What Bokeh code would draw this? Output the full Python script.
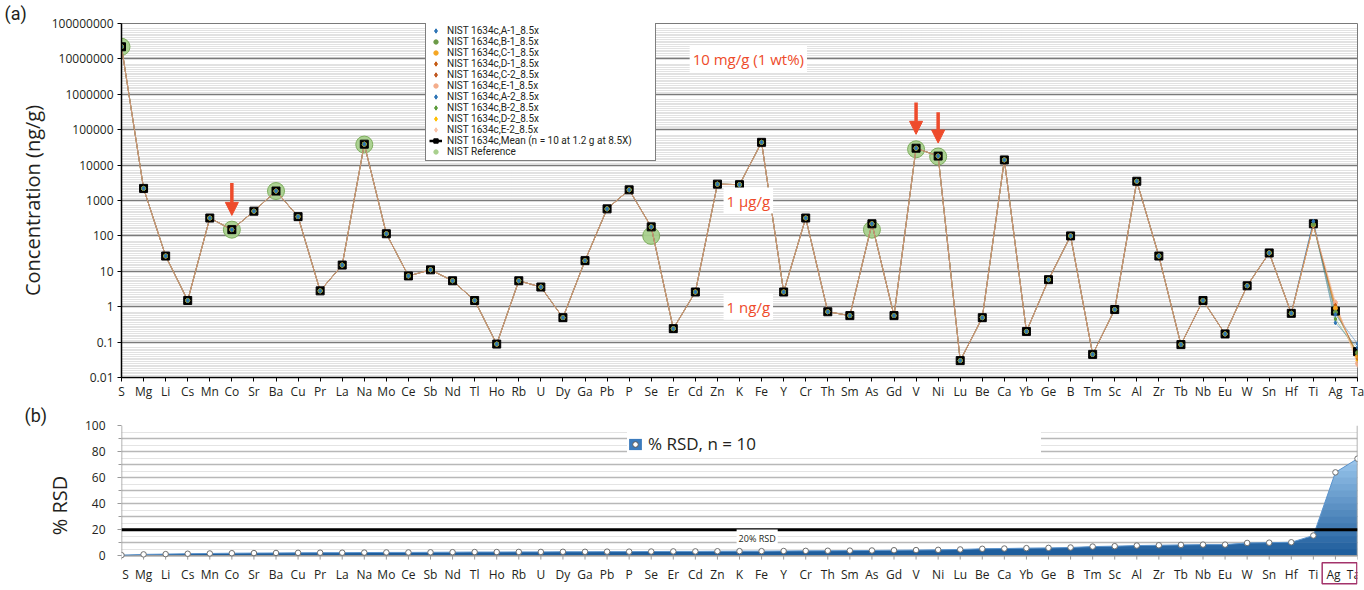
import numpy as np
from bokeh.plotting import figure
from bokeh.models import (Range1d, FixedTicker, Legend, LegendItem, Label, Arrow,
                          NormalHead, Span, Title)
from bokeh.core.properties import value
from bokeh.layouts import column
from bokeh.embed import file_html
from bokeh.resources import INLINE

FONT = "Open Sans"
LFONT = "Roboto"
RED = "#ee4b2b"
INK = "#231f20"
NAN = float("nan")

elements = ["S", "Mg", "Li", "Cs", "Mn", "Co", "Sr", "Ba", "Cu", "Pr", "La", "Na", "Mo",
            "Ce", "Sb", "Nd", "Tl", "Ho", "Rb", "U", "Dy", "Ga", "Pb", "P", "Se", "Er",
            "Cd", "Zn", "K", "Fe", "Y", "Cr", "Th", "Sm", "As", "Gd", "V", "Ni", "Lu",
            "Be", "Ca", "Yb", "Ge", "B", "Tm", "Sc", "Al", "Zr", "Tb", "Nb", "Eu", "W",
            "Sn", "Hf", "Ti", "Ag", "Ta"]

# mean concentration, ng/g (n = 10)
mean_ngg = [2.2e7, 2200, 27, 1.5, 320, 150, 500, 1850, 350, 2.8, 15, 39000, 115,
            7.4, 11, 5.4, 1.5, 0.088, 5.4, 3.6, 0.49, 20, 580, 2000, 180, 0.24,
            2.6, 2900, 2800, 44000, 2.6, 320, 0.72, 0.56, 220, 0.56, 30000, 18000, 0.03,
            0.49, 14000, 0.2, 5.8, 100, 0.045, 0.83, 3500, 27, 0.085, 1.5, 0.17, 3.9,
            33, 0.65, 220, 0.75, 0.054]

# NIST certified / reference values (only where shown)
nist_ref = {"S": 2.2e7, "Co": 150, "Ba": 1850, "Na": 38000, "Se": 100, "As": 150,
            "V": 28000, "Ni": 17500}

# replicate runs: identical to the mean except where they visibly diverge
rep_names = ["NIST 1634c,A-1_8.5x", "NIST 1634c,B-1_8.5x", "NIST 1634c,C-1_8.5x",
             "NIST 1634c,D-1_8.5x", "NIST 1634c,C-2_8.5x", "NIST 1634c,E-1_8.5x",
             "NIST 1634c,A-2_8.5x", "NIST 1634c,B-2_8.5x", "NIST 1634c,D-2_8.5x",
             "NIST 1634c,E-2_8.5x"]
rep_colors = ["#2e75b6", "#6b9a47", "#f5a623", "#c55a11", "#c0561e", "#f4ad8b",
              "#2e75b6", "#5c9b3a", "#ffbf00", "#f9c3a8"]
rep_markers = ["diamond", "circle", "circle", "diamond", "diamond", "circle",
               "diamond", "diamond", "diamond", "diamond"]
rep_ti = [260, 210, 205, 200, 205, 200, 250, 215, 200, 195]
rep_ag = [0.6, 0.7, 0.9, 1.1, 0.8, 1.3, 0.35, 0.45, 1.0, 1.4]
rep_ta = [0.09, 0.05, 0.04, 0.035, 0.045, 0.025, 0.07, 0.05, 0.03, 0.022]

# % RSD, n = 10
rsd = [0.4, 1.0, 1.2, 1.5, 1.7, 1.9, 2.0, 2.1, 2.2, 2.3, 2.3, 2.4, 2.5, 2.5, 2.6,
       2.7, 2.8, 2.8, 2.9, 2.9, 3.0, 3.0, 3.1, 3.1, 3.2, 3.3, 3.3, 3.4, 3.5, 3.5,
       3.6, 3.7, 3.8, 3.9, 4.0, 4.2, 4.3, 4.5, 4.8, 5.3, 5.5, 5.8, 6.0, 6.3, 7.0,
       7.3, 7.8, 8.0, 8.3, 8.5, 8.5, 9.8, 10.0, 10.3, 15.5, 64.0, 74.5]

y_major = [1e-2, 1e-1, 1, 10, 100, 1e3, 1e4, 1e5, 1e6, 1e7, 1e8]
y_labels = ["0.01", "0.1", "1", "10", "100", "1000", "10000", "100000", "1000000",
            "10000000", "100000000"]
rsd_ticks = [0, 20, 40, 60, 80, 100]

x = list(range(len(elements)))
n = len(elements)
W = 1364

# ---------------- (a) concentrations ----------------
p1 = figure(width=W, height=402, x_range=Range1d(0, n - 1), y_range=Range1d(0.01, 1e8),
            y_axis_type="log", output_backend="svg", toolbar_location=None,
            min_border_left=121, min_border_right=7, min_border_top=23,
            min_border_bottom=23, background_fill_color="white")
p1.outline_line_color = "#7a7a7a"
p1.add_layout(Title(text="(a)", align="left", offset=-117, standoff=0,
                    text_font=LFONT, text_font_size="18px", text_font_style="normal",
                    text_color=INK), "above")

minor = [10 ** (k + j * 0.05) for k in range(-2, 8) for j in range(1, 18)]
yt = FixedTicker(ticks=y_major, minor_ticks=minor)
p1.yaxis.ticker = yt
p1.ygrid.ticker = yt
p1.yaxis.major_label_overrides = {v: s for v, s in zip(y_major, y_labels)}
p1.ygrid.grid_line_color = "#7a7a7a"
p1.ygrid.grid_line_width = 1.5
p1.ygrid.minor_grid_line_color = "#c4c4c4"
p1.ygrid.minor_grid_line_dash = "1 1"
p1.xgrid.visible = False

xt = FixedTicker(ticks=x)
p1.xaxis.ticker = xt
p1.xaxis.major_label_overrides = {i: e for i, e in enumerate(elements)}

for ax in (p1.xaxis[0], p1.yaxis[0]):
    ax.axis_line_color = "black"
    ax.axis_line_width = 1.5
    ax.major_tick_line_color = "black"
    ax.major_tick_out = 4
    ax.major_tick_in = 0
    ax.minor_tick_line_color = None
    ax.major_label_text_font = FONT
    ax.major_label_text_font_size = "12px"
    ax.major_label_text_color = INK
p1.xaxis.major_label_standoff = 1
p1.yaxis.major_label_standoff = 4
p1.yaxis.axis_label = "Concentration (ng/g)"
p1.yaxis.axis_label_text_font = FONT
p1.yaxis.axis_label_text_font_size = "20px"
p1.yaxis.axis_label_text_font_style = "normal"
p1.yaxis.axis_label_text_color = INK
p1.yaxis.axis_label_standoff = 3

# NIST reference circles
ref_y = [nist_ref.get(e, NAN) for e in elements]
r_ref = p1.scatter(x, ref_y, marker="circle", size=17, fill_color="#a8d08d",
                   line_color="#7fae5f", line_width=1, fill_alpha=0.95)

# replicate series
rep_series = []
for k in range(len(rep_names)):
    s = list(mean_ngg)
    s[elements.index("Ti")] = rep_ti[k]
    s[elements.index("Ag")] = rep_ag[k]
    s[elements.index("Ta")] = rep_ta[k]
    rep_series.append(s)

line_order = [8, 2, 1, 7, 0, 3, 6, 5, 4, 9]
for k in line_order:
    p1.line(x, rep_series[k], line_color=rep_colors[k], line_width=1, line_alpha=0.45)

r_mean = p1.scatter(x, mean_ngg, marker="square", size=8, fill_color="black",
                    line_color="black")

for k in reversed(range(len(rep_names))):
    p1.scatter(x, rep_series[k], marker=rep_markers[k], size=4,
               fill_color=rep_colors[k], line_color=rep_colors[k])

# legend swatches (legend-only renderers with off-scale points)
leg_r = [p1.scatter([NAN], [NAN], marker=rep_markers[k], size=7, fill_color=rep_colors[k],
                    line_color=rep_colors[k]) for k in range(len(rep_names))]
leg_mean_l = p1.line([NAN, NAN], [NAN, NAN], line_color="black", line_width=2.5)
leg_mean = p1.scatter([NAN], [NAN], marker="square", size=7, fill_color="black",
                      line_color="black")
leg_ref = p1.scatter([NAN], [NAN], marker="circle", size=7, fill_color="#a8d08d",
                     line_color="#a8d08d")

items = [LegendItem(label=rep_names[k], renderers=[leg_r[k]]) for k in range(len(rep_names))]
items.append(LegendItem(label="NIST 1634c,Mean (n = 10 at 1.2 g at 8.5X)",
                        renderers=[leg_mean_l, leg_mean]))
items.append(LegendItem(label="NIST Reference", renderers=[leg_ref]))
leg1 = Legend(items=items, location=(304, 216), label_text_font=LFONT,
              label_text_font_size="10px", label_text_color=INK,
              glyph_width=13, glyph_height=11, label_height=9, spacing=0,
              padding=3, margin=0, label_standoff=5, border_line_color="black",
              border_line_width=1, background_fill_color="white",
              background_fill_alpha=1, label_width=205)
p1.add_layout(leg1)

# annotation texts
for txt, yv in (("10 mg/g (1 wt%)", 1e7), ("1 µg/g", 1e3), ("1 ng/g", 1)):
    p1.add_layout(Label(x=28.4, y=yv, text=txt, text_color=RED, text_font=FONT,
                        text_font_size="15px", text_align="center",
                        text_baseline="middle", background_fill_color="white",
                        padding=3))

# arrows
for xi, y0, y1 in ((elements.index("Co"), 3100, 380), (elements.index("V"), 5.9e5, 7.4e4),
                   (elements.index("Ni"), 3.1e5, 4.2e4)):
    p1.add_layout(Arrow(end=NormalHead(size=13, fill_color=RED, line_color=RED),
                        x_start=xi, y_start=y0, x_end=xi, y_end=y1,
                        line_color=RED, line_width=3.5))

# ---------------- (b) % RSD ----------------
# frame extends below 0 so that the category labels (and the Ag/Ta box) live inside it
p2 = figure(width=W, height=188, x_range=Range1d(0, n - 1), y_range=Range1d(-22.9, 100),
            output_backend="svg", toolbar_location=None,
            min_border_left=121, min_border_right=7, min_border_top=22,
            min_border_bottom=5)
p2.add_layout(Title(text="(b)", align="left", offset=-97, standoff=0,
                    text_font=LFONT, text_font_size="18px", text_font_style="normal",
                    text_color=INK), "above")
p2.outline_line_color = None
p2.xaxis.visible = False
p2.xgrid.visible = False
p2.ygrid.ticker = FixedTicker(ticks=list(range(0, 101, 10)),
                              minor_ticks=list(range(5, 100, 10)))
p2.ygrid.grid_line_color = "#b8b8b8"
p2.ygrid.grid_line_width = 1.5
p2.ygrid.minor_grid_line_color = "#c8c8c8"
p2.ygrid.minor_grid_line_dash = "1 1"
p2.yaxis.ticker = FixedTicker(ticks=rsd_ticks, minor_ticks=list(range(10, 100, 20)))
ya_ax = p2.yaxis[0]
ya_ax.axis_line_color = None
ya_ax.major_tick_line_color = "#9a9a9a"
ya_ax.minor_tick_line_color = "#9a9a9a"
ya_ax.major_tick_out = 4
ya_ax.major_tick_in = 0
ya_ax.minor_tick_out = 3
ya_ax.minor_tick_in = 0
ya_ax.major_label_text_font = FONT
ya_ax.major_label_text_font_size = "12px"
ya_ax.major_label_text_color = INK
ya_ax.major_label_standoff = 12
ya_ax.axis_label = "% RSD"
ya_ax.axis_label_text_font = FONT
ya_ax.axis_label_text_font_size = "20px"
ya_ax.axis_label_text_font_style = "normal"
ya_ax.axis_label_text_color = INK
ya_ax.axis_label_standoff = 9

# gradient-filled area built from horizontal bands (exact polygon breakpoints)
xa = np.array(x, dtype=float)
ya = np.array(rsd, dtype=float)
levels = list(range(0, 80, 5)) + [100]
brk = set(xa.tolist())
for L in levels:
    for i in range(n - 1):
        if (ya[i] - L) * (ya[i + 1] - L) < 0:
            brk.add(i + (L - ya[i]) / (ya[i + 1] - ya[i]))
xb = np.array(sorted(brk))
yb = np.interp(xb, xa, ya)


def mix(c0, c1, t):
    a = [int(c0[i:i + 2], 16) for i in (1, 3, 5)]
    b = [int(c1[i:i + 2], 16) for i in (1, 3, 5)]
    return "#%02x%02x%02x" % tuple(int(round(a[j] + (b[j] - a[j]) * t)) for j in range(3))


for i in range(len(levels) - 1):
    lo, hi = levels[i], levels[i + 1]
    t = min(1.0, (lo + 2.5) / 75.0)
    col = mix("#1b5a9a", "#9cc8ee", t)
    p2.varea(x=xb, y1=np.minimum(yb, lo), y2=np.minimum(yb, hi + 0.4), fill_color=col)

# plot-area border (left, right, bottom) and category ticks / labels
x_last = n - 1
p2.segment(x0=[0, x_last, 0], y0=[0, 0, 0], x1=[0, x_last, x_last], y1=[100, 100, 0],
           line_color="#9a9a9a", line_width=1.5)
p2.segment(x0=x, y0=[0] * n, x1=x, y1=[-3] * n, line_color="#9a9a9a", line_width=1)
edge_shift = [0] * n
edge_shift[0] = 4
edge_shift[-2] = -2
edge_shift[-1] = -4
p2.text(x=x, y=[-14.6] * n, text=elements, x_offset=edge_shift, text_font=value(FONT),
        text_font_size="12px", text_color=INK, text_align="center",
        text_baseline="middle")
i_ag, i_ta = elements.index("Ag"), elements.index("Ta")
p2.quad(left=[i_ag - 0.6], right=[i_ta - 0.03], top=[-5.4], bottom=[-21.6],
        fill_color=None, line_color="#a3336b", line_width=1.5)

p2.line(x, rsd, line_color="#5b93cc", line_width=1)
r_pts = p2.scatter(x, rsd, marker="circle", size=5.5, fill_color="white",
                   line_color="#6f6f6f", line_width=1)

p2.add_layout(Span(location=20, dimension="width", line_color="black", line_width=3))
p2.add_layout(Label(x=28.8, y=13.5, text="20% RSD", text_font=FONT, text_font_size="9px",
                    text_align="center", text_baseline="middle", text_color=INK,
                    background_fill_color="white", padding=2))

leg_area = p2.varea(x=[NAN, NAN], y1=[NAN, NAN], y2=[NAN, NAN], fill_color="#3b7bbd")
leg_pt = p2.scatter([NAN], [NAN], marker="circle", size=9, fill_color="white",
                    line_color="#555555", line_width=1)
leg2 = Legend(items=[LegendItem(label="% RSD, n = 10", renderers=[leg_area, leg_pt])],
              location=(506, 130), label_text_font=FONT, label_text_font_size="17px",
              label_text_color=INK, glyph_width=16, glyph_height=14,
              label_standoff=5, padding=6, margin=0, spacing=0,
              border_line_color=None, background_fill_color="white",
              background_fill_alpha=1, label_width=393)
p2.add_layout(leg2)

layout = column(p1, p2, spacing=0)
open("out.html", "w").write(file_html(layout, INLINE))
